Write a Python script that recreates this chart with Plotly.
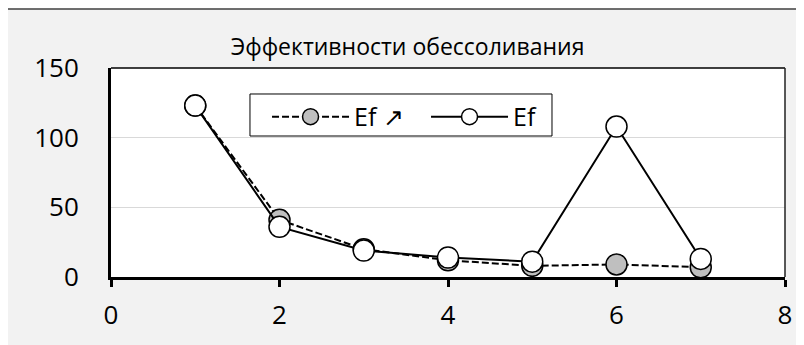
import plotly.graph_objects as go

# Эффективности обессоливания
x_vals = [1, 2, 3, 4, 5, 6, 7]
ef_up = [123, 41, 20, 12, 8, 9, 7]
ef = [123, 36, 19, 14, 11, 108, 13]

FONT = "Open Sans"

fig = go.Figure()
fig.add_trace(go.Scatter(x=x_vals, y=ef_up, name="Ef \u2197", mode="lines+markers",
                         line=dict(color="black", width=2, dash="7px,3px"),
                         marker=dict(size=21, color="#BFBFBF", line=dict(color="black", width=1.5))))
fig.add_trace(go.Scatter(x=x_vals, y=ef, name="Ef", mode="lines+markers",
                         line=dict(color="black", width=2),
                         marker=dict(size=21, color="white", line=dict(color="black", width=1.5))))

# outer chart frame (grey background), white plot area, legend box, thin top/right borders
fig.add_shape(type="rect", xref="paper", yref="paper", x0=-0.1558, x1=1.06, y0=-0.45, y1=1.2823,
              fillcolor="#F2F2F2", line=dict(color="#404040", width=1.5), layer="below")
fig.add_shape(type="rect", xref="paper", yref="paper", x0=0, x1=1, y0=0, y1=1,
              fillcolor="white", line=dict(width=0), layer="below")
fig.add_shape(type="rect", xref="paper", yref="paper", x0=0.2062, x1=0.6543, y0=0.6746, y1=0.8756,
              fillcolor="white", line=dict(color="black", width=1), layer="below")
fig.add_shape(type="line", xref="paper", yref="paper", x0=0, x1=1, y0=1, y1=1,
              line=dict(color="black", width=1.5))
fig.add_shape(type="line", xref="paper", yref="paper", x0=1, x1=1, y0=0, y1=1,
              line=dict(color="#222222", width=1.5))

fig.update_layout(
    width=804, height=345,
    margin=dict(l=103, r=27, t=60, b=76),
    paper_bgcolor="white", plot_bgcolor="rgba(0,0,0,0)",
    font=dict(family=FONT, color="black", size=26),
    title=dict(text="Эффективности обессоливания", font=dict(size=23, family=FONT, color="black"),
               xref="paper", x=0.44, xanchor="center", yref="container", y=0.887, yanchor="middle",
               automargin=False),
    showlegend=True,
    legend=dict(orientation="h", x=0.2315, y=0.876, xanchor="left", yanchor="top",
                bgcolor="rgba(0,0,0,0)", borderwidth=0,
                font=dict(size=25, family=FONT), itemwidth=77, entrywidth=67),
)
fig.update_xaxes(range=[0, 8], tickvals=[0, 2, 4, 6, 8], showgrid=False, zeroline=False,
                 showline=True, linecolor="black", linewidth=3, automargin=False,
                 ticks="outside", ticklen=7, tickwidth=3, tickcolor="black",
                 ticklabelstandoff=6, tickfont=dict(size=26))
fig.update_yaxes(range=[0, 150], tickvals=[0, 50, 100, 150], showgrid=True, gridcolor="#D9D9D9",
                 gridwidth=1, zeroline=False, showline=True, linecolor="black", linewidth=3,
                 automargin=False, ticks="", ticklabelstandoff=24, tickfont=dict(size=26))

fig.write_html("out.html")
